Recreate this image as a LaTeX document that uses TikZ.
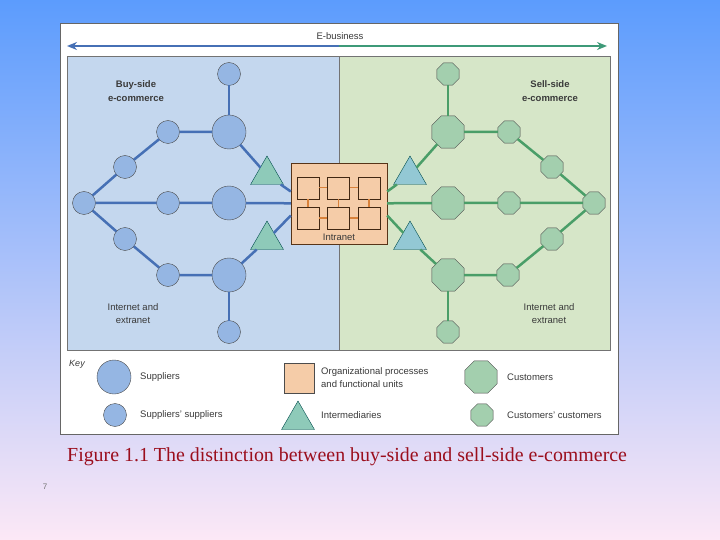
\documentclass[tikz,border=0pt]{standalone}
\usepackage{fontspec}
\setmainfont{Liberation Serif}
\setsansfont{Liberation Sans}
\usetikzlibrary{arrows.meta}
\usetikzlibrary{shapes.geometric,calc}

\definecolor{bgtop}{HTML}{5C9CFD}
\definecolor{bgmid}{HTML}{B4CEF0}
\definecolor{bgbot}{HTML}{FCE8F6}
\definecolor{buyfill}{HTML}{C4D7EE}
\definecolor{sellfill}{HTML}{D6E6C8}
\definecolor{supfill}{HTML}{95B6E3}
\definecolor{cusfill}{HTML}{A3CFAE}
\definecolor{trileft}{HTML}{8ECAB9}
\definecolor{triright}{HTML}{93C8D4}
\definecolor{orgfill}{HTML}{F5CCA8}
\definecolor{orgline}{HTML}{D9823B}
\definecolor{buyline}{HTML}{4670B5}
\definecolor{sellline}{HTML}{4A9E68}
\definecolor{ebgreen}{HTML}{3E9A78}
\definecolor{capred}{HTML}{9B0E1D}
\definecolor{txt}{HTML}{3A3A3A}

\begin{document}
\begin{tikzpicture}[x=1pt,y=-1pt,
	lbl/.style={font=\sffamily\fontsize{9.5}{13}\selectfont,text=txt,inner sep=0pt},
	head/.style={lbl,font=\sffamily\bfseries\fontsize{9.5}{13.5}\selectfont,align=center},
	sup/.style={circle,draw=black!70,thin,fill=supfill,inner sep=0pt,outer sep=0pt,minimum size=34pt},
	supsup/.style={sup,minimum size=23pt},
	cus/.style={regular polygon,regular polygon sides=8,draw=black!70,thin,fill=cusfill,inner sep=0pt,outer sep=0pt,minimum size=35pt},
	cuscus/.style={cus,minimum size=24pt},
	inter/.style={regular polygon,regular polygon sides=3,draw=teal!60!black,thin,inner sep=0pt,outer sep=0pt,minimum size=38pt},
	unit/.style={rectangle,draw=black!70!orgline,fill=orgfill,inner sep=0pt,minimum size=22pt},
	bline/.style={draw=buyline,line width=2.5pt},
	gline/.style={draw=sellline,line width=2.5pt}]

		\useasboundingbox (0,0) rectangle (720,540);
		\shade[top color=bgtop, middle color=bgmid, bottom color=bgbot] (0,0) rectangle (720,540);

		% white panel and the two sides
		\draw[black!60, fill=white] (60,23) rectangle (618,434);
		\draw[black!55, fill=buyfill] (67,56) rectangle (339,350);
		\draw[black!55, fill=sellfill] (339,56) rectangle (610,350);

		% E-business arrow
		\node[lbl] (eb) at (340,36) {E-business};
		\coordinate (ebL) at (67,46);
		\coordinate (ebR) at (607,46);
		\coordinate (ebM) at (339,46);
		\draw[buyline, line width=1.8pt, -{Stealth[length=10pt,width=8pt]}] (ebM) -- (ebL);
		\draw[ebgreen, line width=1.8pt, -{Stealth[length=10pt,width=8pt]}] (ebM) -- (ebR);

		\node[head] (buy) at (136,91) {Buy-side\\e-commerce};
		\node[head] (sell) at (550,91) {Sell-side\\e-commerce};
		\node[lbl,align=center] (netL) at (133,314) {Internet and\\extranet};
		\node[lbl,align=center] (netR) at (549,314) {Internet and\\extranet};

		% intranet
		\node[draw=black!60!orgline, fill=orgfill, minimum width=96pt, minimum height=81pt, inner sep=0pt] (box) at (339,203.5) {};
		\node[unit] (u11) at (308,188) {};
		\node[unit] (u12) at (338.5,188) {};
		\node[unit] (u13) at (369,188) {};
		\node[unit] (u21) at (308,218) {};
		\node[unit] (u22) at (338.5,218) {};
		\node[unit] (u23) at (369,218) {};
		\draw[orgline, line width=1pt] (u11) -- (u12) -- (u13);
		\draw[orgline, line width=2pt] (u21) -- (u22) -- (u23);
		\draw[orgline, line width=1.4pt] (u11) -- (u21);
		\draw[orgline, line width=1.4pt] (u12) -- (u22);
		\draw[orgline, line width=1.4pt] (u13) -- (u23);
		\node[lbl] (intra) at (339,237) {Intranet};
		\coordinate (pUL) at ($(box.west)+(0,-12)$);
		\coordinate (pLL) at ($(box.west)+(0,12)$);
		\coordinate (pUR) at ($(box.east)+(0,-12)$);
		\coordinate (pLR) at ($(box.east)+(0,12)$);

		% buy side
		\node[supsup] (ssTop) at (229,74) {};
		\node[sup] (supA) at (229,132) {};
		\node[supsup] (ssA1) at (168,132) {};
		\node[supsup] (ssA2) at (125,167) {};
		\node[supsup] (ssW) at (84,203) {};
		\node[supsup] (ssB1) at (168,203) {};
		\node[sup] (supB) at (229,203) {};
		\node[supsup] (ssC2) at (125,239) {};
		\node[supsup] (ssC1) at (168,275) {};
		\node[sup] (supC) at (229,275) {};
		\node[supsup] (ssBot) at (229,332) {};
		\node[inter, fill=trileft] (triA) at (267,175) {};
		\node[inter, fill=trileft] (triC) at (267,240) {};

		\draw[bline] (ssTop) -- (supA);
		\draw[bline] (supA) -- (ssA1) -- (ssA2) -- (ssW);
		\draw[bline] (ssW) -- (ssB1) -- (supB) -- (box);
		\draw[bline] (ssW) -- (ssC2) -- (ssC1) -- (supC);
		\draw[bline] (supC) -- (ssBot);
		\draw[bline] (supA) -- (triA) -- (pUL);
		\draw[bline] (supC) -- (triC) -- (pLL);

		% sell side
		\node[cuscus] (ccTop) at (448,74) {};
		\node[cus] (cusA) at (448,132) {};
		\node[cuscus] (ccA1) at (509,132) {};
		\node[cuscus] (ccA2) at (552,167) {};
		\node[cuscus] (ccE) at (594,203) {};
		\node[cuscus] (ccB1) at (509,203) {};
		\node[cus] (cusB) at (448,203) {};
		\node[cuscus] (ccC2) at (552,239) {};
		\node[cuscus] (ccC1) at (508,275) {};
		\node[cus] (cusC) at (448,275) {};
		\node[cuscus] (ccBot) at (448,332) {};
		\node[inter, fill=triright] (triR) at (410,175) {};
		\node[inter, fill=triright] (triS) at (410,240) {};

		\draw[gline] (ccTop) -- (cusA);
		\draw[gline] (cusA) -- (ccA1) -- (ccA2) -- (ccE);
		\draw[gline] (ccE) -- (ccB1) -- (cusB) -- (box);
		\draw[gline] (ccE) -- (ccC2) -- (ccC1) -- (cusC);
		\draw[gline] (cusC) -- (ccBot);
		\draw[gline] (cusA) -- (triR) -- (pUR);
		\draw[gline] (cusC) -- (triS) -- (pLR);

		% key
		\node[lbl, font=\sffamily\itshape\fontsize{9}{11}\selectfont] (key) at (77,364) {Key};
		\node[sup] (kSup) at (114,377) {};
		\node[lbl, anchor=west] (kSupT) at (140,377) {Suppliers};
		\node[supsup] (kSS) at (115,415) {};
		\node[lbl, anchor=west] (kSST) at (140,415) {Suppliers' suppliers};
		\node[unit, minimum size=30pt, draw=black!70] (kOrg) at (299,378) {};
		\node[lbl, anchor=west, align=left] (kOrgT) at (321,378) {Organizational processes\\and functional units};
		\node[inter, fill=trileft] (kInt) at (298,420) {};
		\node[lbl, anchor=west] (kIntT) at (321,415) {Intermediaries};
		\node[cus] (kCus) at (481,377) {};
		\node[lbl, anchor=west] (kCusT) at (507,377) {Customers};
		\node[cuscus] (kCC) at (482,415) {};
		\node[lbl, anchor=west] (kCCT) at (507,415) {Customers' customers};

		% caption and page number
		\node[anchor=base west, inner sep=0pt, text=capred, font=\fontsize{19.9}{22}\selectfont] (cap) at (67,461) {Figure 1.1 The distinction between buy-side and sell-side e-commerce};
		\node[text=black!55, font=\sffamily\fontsize{8}{9}\selectfont] (page) at (45,487) {7};

\end{tikzpicture}
\end{document}
